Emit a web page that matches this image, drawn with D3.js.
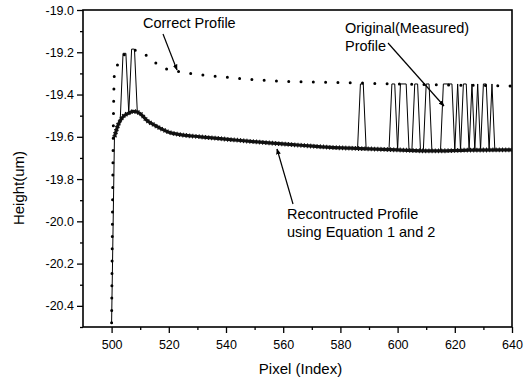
<!DOCTYPE html>
<html>
<head>
<meta charset="utf-8">
<script src="https://cdn.jsdelivr.net/npm/d3@7"></script>
<style>
  body { margin: 0; background: #fff; }
  text { font-family: "Liberation Sans", Arial, sans-serif; fill: #000; }
</style>
</head>
<body>
<svg id="chart" width="530" height="378"></svg>
<script>
// correct profile (dotted)
const corrX = [500, 501, 502.5, 505, 508, 510, 514, 518, 523, 530, 540, 550, 560, 580, 600, 620, 640];
const corrY = [-20.48, -19.30, -19.25, -19.205, -19.19, -19.195, -19.236, -19.272, -19.29, -19.305, -19.318, -19.33, -19.337, -19.343, -19.35, -19.355, -19.36];

// reconstructed profile (thick)
const recX = [501, 502.4, 504, 506, 507.6, 510, 512.3, 515, 520, 524, 531, 541.5, 555, 566, 576.5, 583.5, 590, 600, 612, 625, 640];
const recY = [-19.60, -19.54, -19.505, -19.488, -19.48, -19.49, -19.522, -19.545, -19.578, -19.59, -19.60, -19.613, -19.629, -19.64, -19.65, -19.654, -19.657, -19.662, -19.667, -19.663, -19.662];

// measured profile = reconstructed + jumps (index ranges that sit high)
const spikeStart = [504, 507, 587, 598, 601, 606, 610, 616, 621, 623, 626, 628, 630, 633];
const spikeEnd   = [505, 508, 588, 599, 603, 607, 611, 619, 621, 624, 626, 628, 631, 633];
const spikeTop   = [-19.205, -19.185, -19.35, -19.35, -19.35, -19.35, -19.35, -19.35, -19.35, -19.35, -19.35, -19.35, -19.35, -19.35];
const measStart = [500, -20.48];

const xTickVals = [500, 520, 540, 560, 580, 600, 620, 640];
const xMinorVals = [510, 530, 550, 570, 590, 610, 630];
const yTickVals = [-20.4, -20.2, -20.0, -19.8, -19.6, -19.4, -19.2, -19.0];
const yMinorVals = [-20.5, -20.3, -20.1, -19.9, -19.7, -19.5, -19.3, -19.1];

const svg = d3.select("#chart");
const L = 83, R = 512, T = 10, B = 327;

const x = d3.scaleLinear().domain([490, 640]).range([L, R]);
const y = d3.scaleLinear().domain([-20.5, -19.0]).range([B, T]);

// axes
svg.append("g").attr("transform", "translate(0," + B + ")")
  .call(d3.axisBottom(x).tickValues(xTickVals).tickSize(6).tickPadding(7).tickFormat(d3.format("d")));
svg.append("g").attr("transform", "translate(0," + B + ")")
  .call(d3.axisBottom(x).tickValues(xMinorVals).tickSize(3).tickFormat(""));
svg.append("g").attr("transform", "translate(" + L + ",0)")
  .call(d3.axisLeft(y).tickValues(yTickVals).tickSize(6).tickPadding(3).tickFormat(d => d.toFixed(1).replace("\u2212", "-")));
svg.append("g").attr("transform", "translate(" + L + ",0)")
  .call(d3.axisLeft(y).tickValues(yMinorVals).tickSize(3).tickFormat(""));

svg.selectAll(".domain").remove();
svg.selectAll(".tick line").attr("stroke", "#000").attr("stroke-width", 1.3);
svg.selectAll(".tick text").style("font-size", "12.5px").style("font-family", "'Liberation Sans', Arial, sans-serif");

// frame
svg.append("rect").attr("x", L).attr("y", T).attr("width", R - L).attr("height", B - T)
  .attr("fill", "none").attr("stroke", "#000").attr("stroke-width", 1.6);

// axis titles
svg.append("text").attr("x", (L + R) / 2 + 3).attr("y", 374).attr("text-anchor", "middle")
  .style("font-size", "15px").text("Pixel (Index)");
svg.append("text").attr("transform", "translate(24,188) rotate(-90)").attr("text-anchor", "middle")
  .style("font-size", "15px").text("Height(um)");

const line = d3.line().x(d => x(d[0])).y(d => y(d[1]));
const smooth = d3.line().x(d => x(d[0])).y(d => y(d[1])).curve(d3.curveMonotoneX);
const plot = svg.append("g");

// measured profile, built from reconstructed values plus the jumps
const recAt = v => {
  const i = d3.bisectLeft(recX, v);
  if (i <= 0) return recY[0];
  if (i >= recX.length) return recY[recY.length - 1];
  const t = (v - recX[i - 1]) / (recX[i] - recX[i - 1]);
  return recY[i - 1] + t * (recY[i] - recY[i - 1]);
};
let meas = [measStart];
recX.forEach((v, i) => {
  const inside = spikeStart.some((s, k) => v >= s - 1 && v <= spikeEnd[k] + 1);
  if (!inside) meas.push([v, recY[i]]);
});
spikeStart.forEach((s, k) => {
  meas.push([s - 1 + 0.001, recAt(s - 1)]);
  meas.push([s, spikeTop[k]]);
  meas.push([spikeEnd[k], spikeTop[k]]);
  meas.push([spikeEnd[k] + 1 - 0.001, recAt(spikeEnd[k] + 1)]);
});
meas.sort((a, b) => a[0] - b[0]);

plot.append("path").datum(meas).attr("d", line)
  .attr("fill", "none").attr("stroke", "#000").attr("stroke-width", 1);

// reconstructed: solid core plus a ragged edge like the scanned trace
const rec = recX.map((v, i) => [v, recY[i]]);
plot.append("path").datum(rec).attr("d", smooth)
  .attr("fill", "none").attr("stroke", "#111").attr("stroke-width", 3.2);
plot.append("path").datum(rec).attr("d", smooth)
  .attr("fill", "none").attr("stroke", "#111").attr("stroke-width", 4.8)
  .attr("stroke-dasharray", "1,2.2");

// correct profile dotted
const corr = corrX.map((v, i) => [v, corrY[i]]);
plot.append("path").datum(corr).attr("d", smooth)
  .attr("fill", "none").attr("stroke", "#000").attr("stroke-width", 3)
  .attr("stroke-linecap", "round").attr("stroke-dasharray", "0,12.3");

// annotations
svg.append("defs").append("marker").attr("id", "ah").attr("viewBox", "0 0 10 10")
  .attr("refX", 9).attr("refY", 5).attr("markerWidth", 6).attr("markerHeight", 6)
  .attr("orient", "auto").attr("markerUnits", "userSpaceOnUse")
  .append("path").attr("d", "M0,1 L10,5 L0,9 Z").attr("fill", "#000");

const note = (tx, ty, lines, ax1, ay1, ax2, ay2) => {
  lines.forEach((s, i) => svg.append("text").attr("x", tx).attr("y", ty + i * 18)
    .style("font-size", "14.5px").text(s));
  svg.append("line").attr("x1", ax1).attr("y1", ay1).attr("x2", ax2).attr("y2", ay2)
    .attr("stroke", "#000").attr("stroke-width", 1.2).attr("marker-end", "url(#ah)");
};
note(143, 28, ["Correct Profile"], 163, 34, 177, 70);
note(345, 33, ["Original(Measured)", "Profile"], 388, 43, 444, 106);
note(287, 219, ["Recontructed Profile", "using Equation 1 and 2"], 293, 204, 277, 149);
</script>
</body>
</html>
